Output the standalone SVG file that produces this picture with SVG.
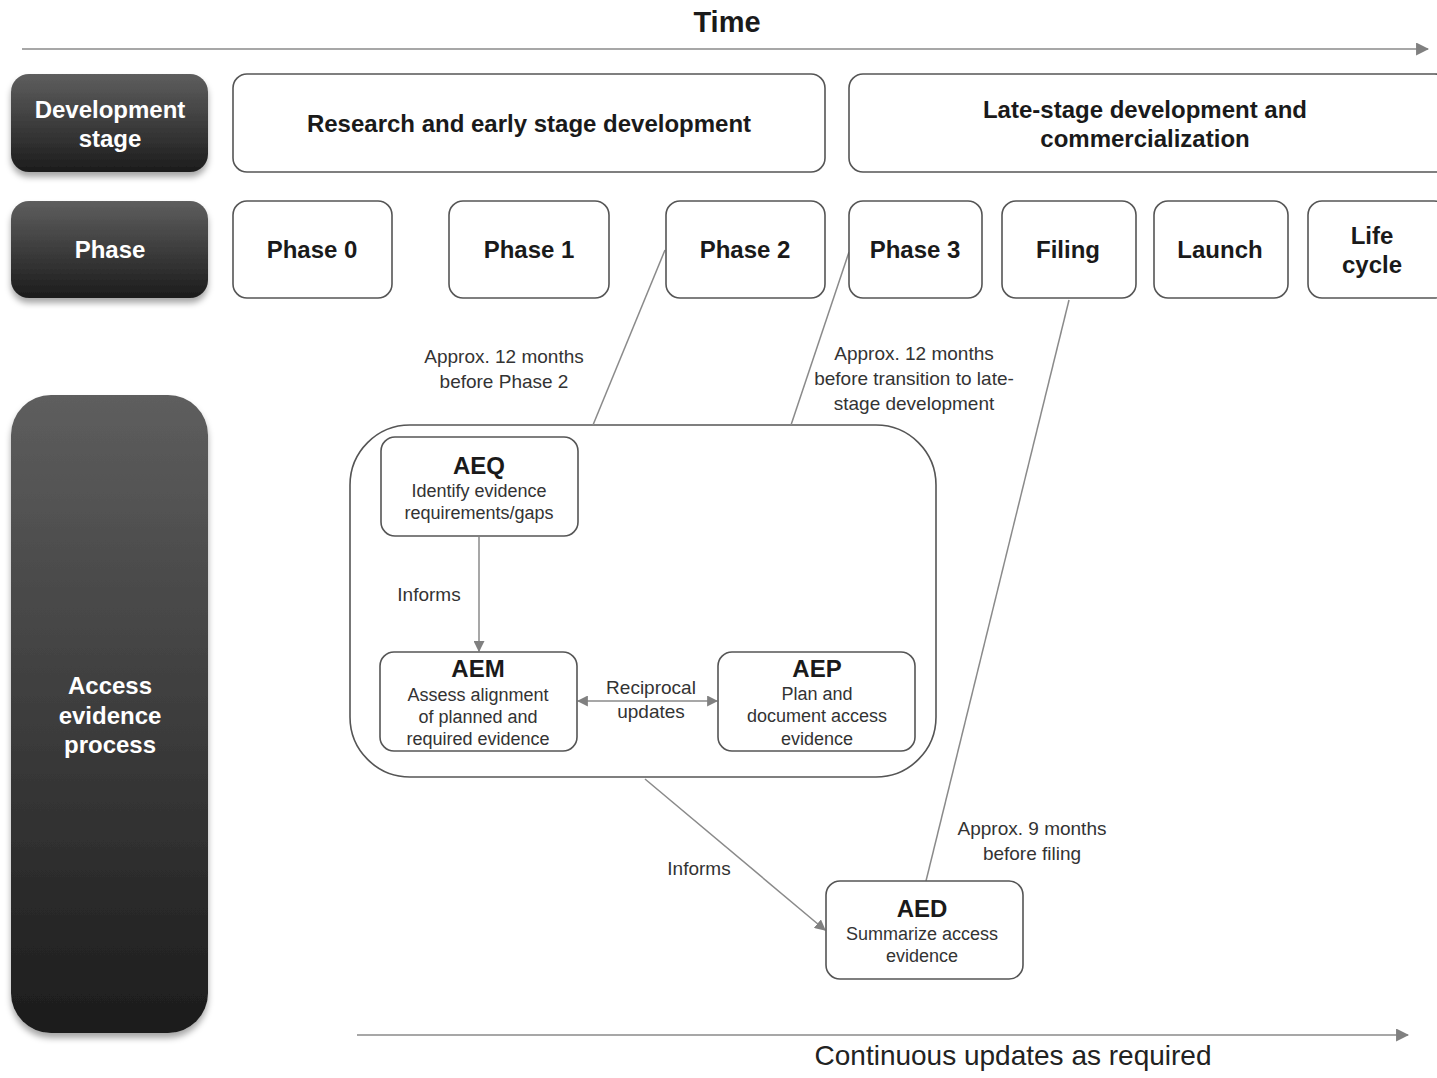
<svg xmlns="http://www.w3.org/2000/svg" width="1437" height="1078" viewBox="0 0 1437 1078">
<defs>
<linearGradient id="dark" x1="0" y1="0" x2="0" y2="1">
<stop offset="0" stop-color="#5e5e5e"/>
<stop offset="1" stop-color="#1c1c1c"/>
</linearGradient>
<filter id="shadow" x="-10%" y="-10%" width="120%" height="130%">
<feDropShadow dx="0" dy="5" stdDeviation="3" flood-color="#000" flood-opacity="0.35"/>
</filter>
<marker id="arr" viewBox="0 0 10 10" refX="9" refY="5" markerWidth="11" markerHeight="11" markerUnits="userSpaceOnUse" orient="auto-start-reverse">
<path d="M0,0 L10,5 L0,10 z" fill="#808080"/>
</marker>
<marker id="arrBig" viewBox="0 0 12 12" refX="11" refY="6" markerWidth="13" markerHeight="13" markerUnits="userSpaceOnUse" orient="auto">
<path d="M0,0 L12,6 L0,12 z" fill="#808080"/>
</marker>
</defs>
<style>
.dark{fill:url(#dark);filter:url(#shadow);}
.dk{font-family:"Liberation Sans",Arial,sans-serif;font-weight:bold;font-size:24px;fill:#fff;text-anchor:middle;}
.box{fill:#fff;stroke:#555;stroke-width:1.6;}
.hd{font-family:"Liberation Sans",Arial,sans-serif;font-weight:bold;font-size:24px;fill:#1a1a1a;text-anchor:middle;}
.sm{font-family:"Liberation Sans",Arial,sans-serif;font-size:18px;fill:#333;text-anchor:middle;}
.lbl{font-family:"Liberation Sans",Arial,sans-serif;font-size:19px;fill:#333;text-anchor:middle;}
.ln{stroke:#8a8a8a;stroke-width:1.5;fill:none;}
</style>
<rect width="1437" height="1078" fill="#fff"/>
<text x="727" y="32" class="hd" style="font-size:29px">Time</text>
<g id="process-container"><rect x="350" y="425" width="586" height="352" rx="60" class="box"/></g>
<g id="connectors">
<line x1="22" y1="49" x2="1428" y2="49" class="ln" stroke-width="2" marker-end="url(#arrBig)"/>
<line x1="357" y1="1035" x2="1408" y2="1035" class="ln" stroke-width="2" marker-end="url(#arrBig)"/>
<line x1="665" y1="250" x2="593" y2="425" class="ln"/>
<line x1="849" y1="252" x2="791" y2="425" class="ln"/>
<line x1="1069" y1="300" x2="926" y2="881" class="ln"/>
<line x1="479" y1="537" x2="479" y2="651" class="ln" marker-end="url(#arr)"/>
<line x1="578" y1="701" x2="717" y2="701" class="ln" marker-start="url(#arr)" marker-end="url(#arr)"/>
<line x1="645" y1="779" x2="825" y2="930" class="ln" marker-end="url(#arr)"/>
</g>
<g id="label-dev-stage"><rect x="11" y="74" width="197" height="98" rx="18" class="dark"/><text x="110" y="118" class="dk">Development</text><text x="110" y="147" class="dk">stage</text></g>
<g id="label-phase"><rect x="11" y="201" width="197" height="97" rx="18" class="dark"/><text x="110" y="258" class="dk">Phase</text></g>
<g id="label-access"><rect x="11" y="395" width="197" height="638" rx="40" class="dark"/><text x="110" y="694" class="dk">Access</text><text x="110" y="724" class="dk">evidence</text><text x="110" y="753" class="dk">process</text></g>
<g id="stage-research"><rect x="233" y="74" width="592" height="98" rx="14" class="box"/><text x="529" y="132" class="hd">Research and early stage development</text></g>
<g id="stage-late"><rect x="849" y="74" width="600" height="98" rx="14" class="box"/><text x="1145" y="118" class="hd">Late-stage development and</text><text x="1145" y="147" class="hd">commercialization</text></g>
<g id="phase0"><rect x="233" y="201" width="159" height="97" rx="14" class="box"/><text x="312" y="258" class="hd">Phase 0</text></g>
<g id="phase1"><rect x="449" y="201" width="160" height="97" rx="14" class="box"/><text x="529" y="258" class="hd">Phase 1</text></g>
<g id="phase2"><rect x="666" y="201" width="159" height="97" rx="14" class="box"/><text x="745" y="258" class="hd">Phase 2</text></g>
<g id="phase3"><rect x="849" y="201" width="133" height="97" rx="14" class="box"/><text x="915" y="258" class="hd">Phase 3</text></g>
<g id="filing"><rect x="1002" y="201" width="134" height="97" rx="14" class="box"/><text x="1068" y="258" class="hd">Filing</text></g>
<g id="launch"><rect x="1154" y="201" width="134" height="97" rx="14" class="box"/><text x="1220" y="258" class="hd">Launch</text></g>
<g id="lifecycle"><rect x="1308" y="201" width="140" height="97" rx="14" class="box"/><text x="1372" y="244" class="hd">Life</text><text x="1372" y="273" class="hd">cycle</text></g>
<g id="labels">
<text x="504" y="363" class="lbl">Approx. 12 months</text>
<text x="504" y="388" class="lbl">before Phase 2</text>
<text x="914" y="360" class="lbl">Approx. 12 months</text>
<text x="914" y="385" class="lbl">before transition to late-</text>
<text x="914" y="410" class="lbl">stage development</text>
<text x="429" y="601" class="lbl">Informs</text>
<text x="651" y="694" class="lbl">Reciprocal</text>
<text x="651" y="718" class="lbl">updates</text>
<text x="699" y="875" class="lbl">Informs</text>
<text x="1032" y="835" class="lbl">Approx. 9 months</text>
<text x="1032" y="860" class="lbl">before filing</text>
<text x="1013" y="1065" class="lbl" style="font-size:28px;fill:#222">Continuous updates as required</text>
</g>
<g id="aeq"><rect x="381" y="437" width="197" height="99" rx="14" class="box"/><text x="479" y="474" class="hd">AEQ</text><text x="479" y="497" class="sm">Identify evidence</text><text x="479" y="519" class="sm">requirements/gaps</text></g>
<g id="aem"><rect x="380" y="652" width="197" height="99" rx="14" class="box"/><text x="478" y="677" class="hd">AEM</text><text x="478" y="701" class="sm">Assess alignment</text><text x="478" y="723" class="sm">of planned and</text><text x="478" y="745" class="sm">required evidence</text></g>
<g id="aep"><rect x="718" y="652" width="197" height="99" rx="14" class="box"/><text x="817" y="677" class="hd">AEP</text><text x="817" y="700" class="sm">Plan and</text><text x="817" y="722" class="sm">document access</text><text x="817" y="745" class="sm">evidence</text></g>
<g id="aed"><rect x="826" y="881" width="197" height="98" rx="14" class="box"/><text x="922" y="917" class="hd">AED</text><text x="922" y="940" class="sm">Summarize access</text><text x="922" y="962" class="sm">evidence</text></g>
</svg>
